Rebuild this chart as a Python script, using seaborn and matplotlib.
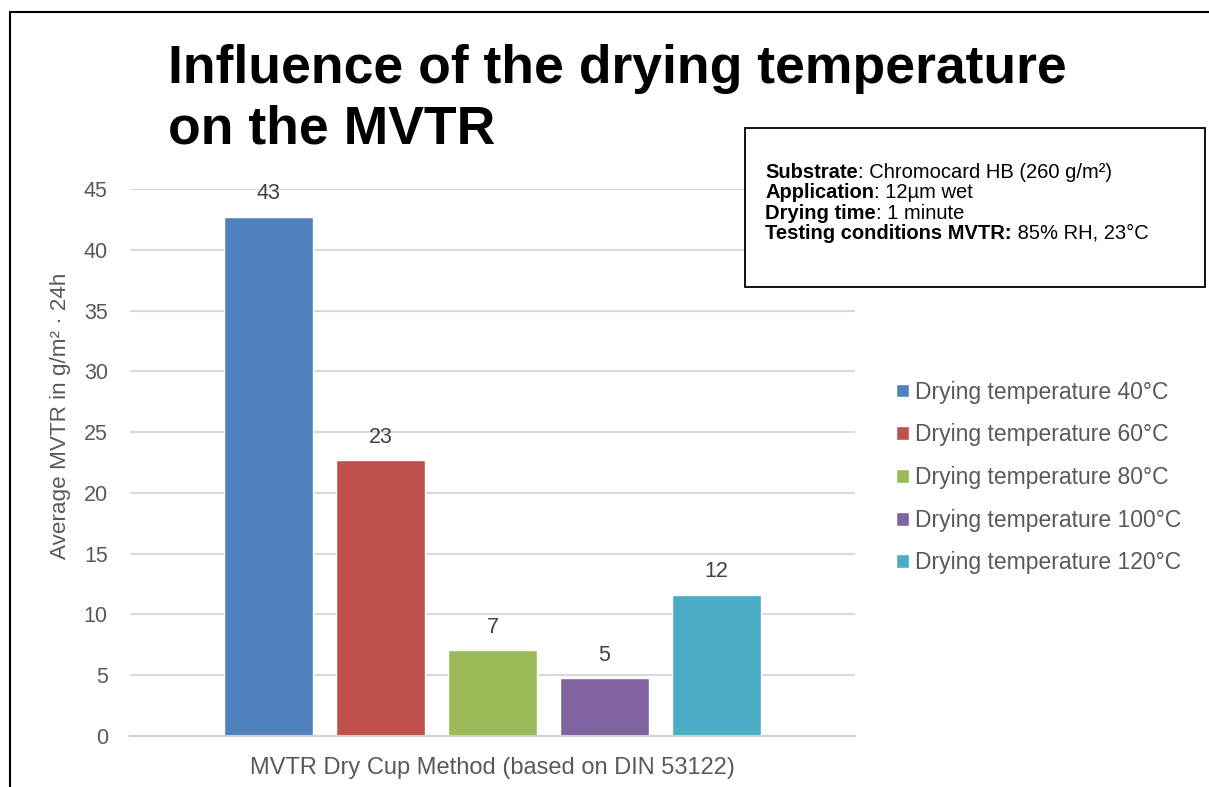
import pandas as pd
import seaborn as sns
from matplotlib import pyplot as plt
from matplotlib.lines import Line2D
from matplotlib.patches import Rectangle

sns.set_style('white')
plt.rcParams['font.family'] = ['Liberation Sans', 'DejaVu Sans']

method = 'MVTR Dry Cup Method (based on DIN 53122)'
series = ['Drying temperature 40°C', 'Drying temperature 60°C',
          'Drying temperature 80°C', 'Drying temperature 100°C',
          'Drying temperature 120°C']
values = [42.7, 22.7, 7.05, 4.75, 11.6]
colors = ['#4F81BD', '#C0504D', '#9BBB59', '#8064A2', '#4BACC6']

df = pd.DataFrame({'method': [method] * len(series),
                   'series': series,
                   'value': values})

W, H = 1209, 787
fig = plt.figure(figsize=(W / 100, H / 100), dpi=100)
ax = fig.add_axes([130 / W, 1 - 736 / H, 725 / W, 547 / H])

sns.barplot(data=df, x='method', y='value', hue='series', palette=colors,
            width=0.772, gap=0.2, saturation=1, ax=ax, legend=True)

for c in ax.containers:
    ax.bar_label(c, fmt='%.0f', padding=9, fontsize=15.5, color='#404040')

ax.set_ylim(0, 45)
ax.set_xlim(-0.5, 0.5)
ax.set_yticks(range(0, 46, 5))
ax.yaxis.grid(True, color='#d9d9d9', linewidth=1.5)
ax.set_axisbelow(True)
for s in ['top', 'right', 'left']:
    ax.spines[s].set_visible(False)
ax.spines['bottom'].set_color('#d0d0d0')
ax.spines['bottom'].set_linewidth(1.5)
ax.tick_params(axis='both', length=0, labelcolor='#595959')
ax.tick_params(axis='y', pad=16, labelsize=15.5)
ax.tick_params(axis='x', pad=15, labelsize=17)
ax.set_xlabel('')
ax.set_ylabel('Average MVTR in g/m² · 24h', fontsize=16.2, color='#595959')
ax.yaxis.set_label_coords(-0.081, 0.585)

ax.legend(loc='upper left', bbox_to_anchor=(0.724, 0.5426),
          bbox_transform=fig.transFigure, frameon=False, fontsize=16.5,
          handlelength=0.55, handleheight=0.55, handletextpad=0.3,
          labelspacing=0.86, labelcolor='#595959')

# title, two lines
fig.text(168 / W, 1 - 83 / H, 'Influence of the drying temperature',
         fontsize=38.5, fontweight='bold', color='black',
         ha='left', va='baseline')
fig.text(168 / W, 1 - 143 / H, 'on the MVTR',
         fontsize=38.5, fontweight='bold', color='black',
         ha='left', va='baseline')

# info box
fig.add_artist(Rectangle((745 / W, 1 - 287 / H), 460 / W, 159 / H,
                         transform=fig.transFigure, facecolor='white',
                         edgecolor='black', linewidth=1.3))
info = [('Substrate', ': Chromocard HB (260 g/m²)'),
        ('Application', ': 12µm wet'),
        ('Drying time', ': 1 minute'),
        ('Testing conditions MVTR:', ' 85% RH, 23°C')]
fig.canvas.draw()
for i, (b, r) in enumerate(info):
    y = 1 - (178 + i * 20.3) / H
    t = fig.text(765 / W, y, b, fontsize=14.5, fontweight='bold',
                 color='black', ha='left', va='baseline')
    bb = t.get_window_extent(renderer=fig.canvas.get_renderer())
    fig.text(bb.x1 / W, y, r, fontsize=14.5, color='black',
             ha='left', va='baseline')

# outer frame
fig.add_artist(Line2D([10 / W, 10 / W], [0, 1 - 12 / H],
                      transform=fig.transFigure, color='black', linewidth=1.5))
fig.add_artist(Line2D([10 / W, 1], [1 - 12 / H, 1 - 12 / H],
                      transform=fig.transFigure, color='black', linewidth=1.5))

plt.savefig('out.png', dpi=100)
plt.close()
